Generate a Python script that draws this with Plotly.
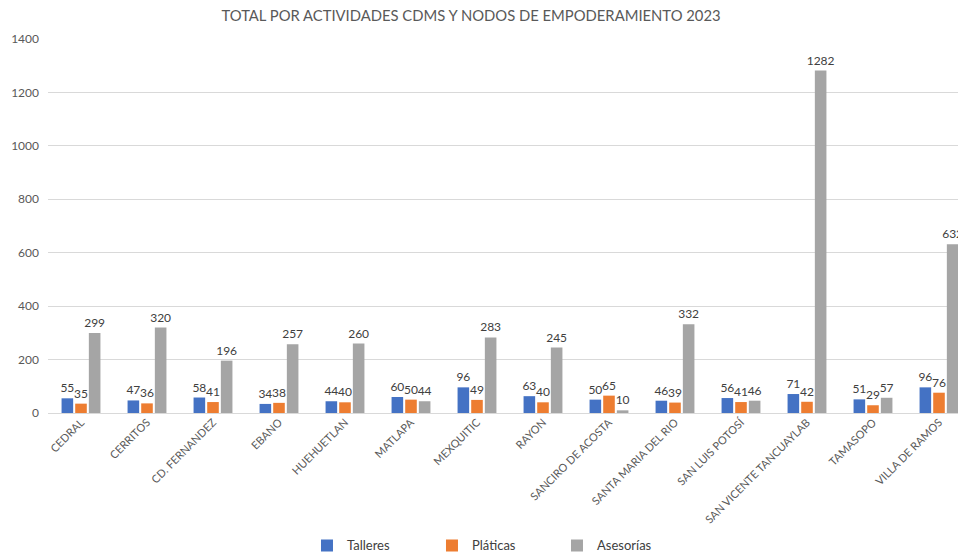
import plotly.graph_objects as go

categories = ["CEDRAL", "CERRITOS", "CD. FERNANDEZ", "EBANO", "HUEHUETLAN", "MATLAPA",
              "MEXQUITIC", "RAYON", "SANCIRO DE ACOSTA", "SANTA MARIA DEL RIO",
              "SAN LUIS POTOSÍ", "SAN VICENTE TANCUAYLAB", "TAMASOPO", "VILLA DE RAMOS"]
talleres = [55, 47, 58, 34, 44, 60, 96, 63, 50, 46, 56, 71, 51, 96]
platicas = [35, 36, 41, 38, 40, 50, 49, 40, 65, 39, 41, 42, 29, 76]
asesorias = [299, 320, 196, 257, 260, 44, 283, 245, 10, 332, 46, 1282, 57, 632]
y_ticks = [0, 200, 400, 600, 800, 1000, 1200, 1400]

FONT = "Lato"
series = [("Talleres", talleres, "#4472C4"),
          ("Pláticas", platicas, "#ED7D31"),
          ("Asesorías", asesorias, "#A5A5A5")]

fig = go.Figure()
for name, vals, col in series:
    fig.add_trace(go.Bar(
        x=list(range(len(categories))), y=vals, name=name,
        marker=dict(color=col, line=dict(width=0)),
        text=[str(v) for v in vals], textposition="outside",
        textangle=0, constraintext="none", cliponaxis=True,
        textfont=dict(family=FONT, size=12, color="#404040"),
    ))

fig.update_layout(
    width=958, height=556,
    margin=dict(l=48, r=0, t=39, b=143, autoexpand=False),
    paper_bgcolor="white", plot_bgcolor="white",
    barmode="group", bargap=0.38, bargroupgap=0.15,
    title=dict(text="TOTAL POR ACTIVIDADES CDMS Y NODOS DE EMPODERAMIENTO 2023",
               x=0.4917, xanchor="center", y=0.981, yanchor="top",
               font=dict(family=FONT, size=14.8, color="#595959")),
    font=dict(family=FONT, color="#595959"),
    legend=dict(orientation="h", x=0.2846, xanchor="left", y=-0.314, yanchor="top",
                font=dict(family=FONT, size=13, color="#404040"),
                itemwidth=30, entrywidth=80, entrywidthmode="pixels",
                traceorder="normal"),
    showlegend=True,
)
fig.update_xaxes(
    tickmode="array", tickvals=list(range(len(categories))), ticktext=categories,
    range=[-0.5, 13.288], tickangle=-45, showgrid=False,
    showline=False, ticks="", automargin=False,
    tickfont=dict(family=FONT, size=11, color="#595959"),
)
fig.update_yaxes(
    range=[0, 1400], tickvals=y_ticks, showgrid=True, gridcolor="#D9D9D9",
    zeroline=True, zerolinecolor="#D9D9D9", zerolinewidth=1, automargin=False,
    tickfont=dict(family=FONT, size=12, color="#595959"), ticks="",
    ticklabelstandoff=8,
)
fig.write_html("out.html", config={"displayModeBar": False},
               post_script="document.body.style.margin='0';document.body.style.overflow='hidden';")
